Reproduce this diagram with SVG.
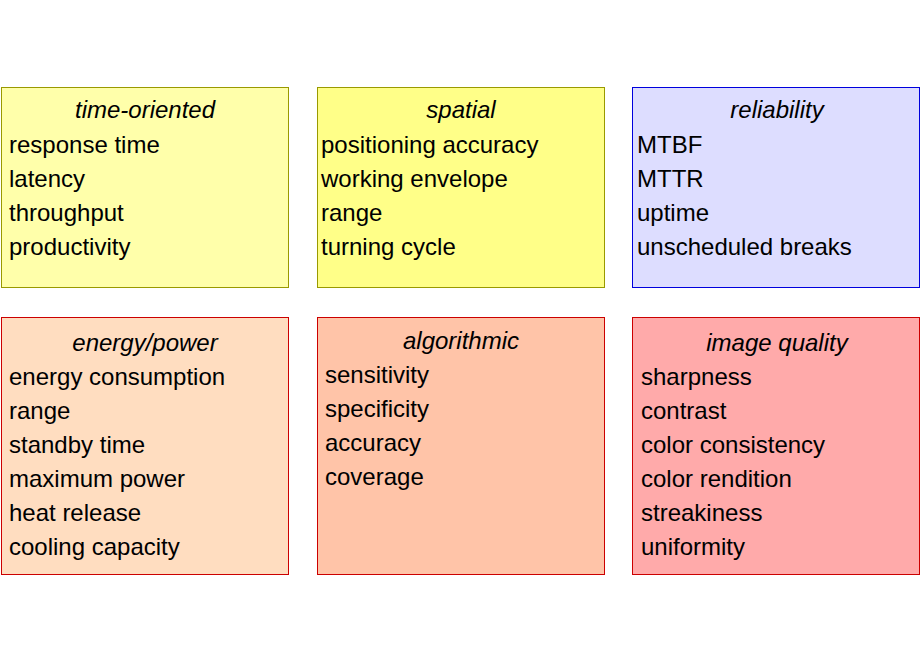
<svg xmlns="http://www.w3.org/2000/svg" width="920" height="660" viewBox="0 0 920 660">
<style>
rect{stroke-width:1}
text{font-family:"Liberation Sans",Arial,sans-serif;font-size:24px;fill:#000}
.t{font-style:italic;text-anchor:middle}
</style>
<rect width="920" height="660" fill="#fff"/>
<g id="time"><rect x="1.5" y="87.5" width="287" height="200" fill="#FFFFAA" stroke="#999900"/>
<text class="t" x="145" y="118">time-oriented</text>
<text x="9" y="153">response time</text><text x="9" y="187">latency</text><text x="9" y="221">throughput</text><text x="9" y="255">productivity</text></g>
<g id="spatial"><rect x="317.5" y="87.5" width="287" height="200" fill="#FFFF88" stroke="#999900"/>
<text class="t" x="461" y="118">spatial</text>
<text x="321" y="153">positioning accuracy</text><text x="321" y="187">working envelope</text><text x="321" y="221">range</text><text x="321" y="255">turning cycle</text></g>
<g id="reliability"><rect x="632.5" y="87.5" width="287" height="200" fill="#DDDDFF" stroke="#0000DD"/>
<text class="t" x="777" y="118">reliability</text>
<text x="637" y="153">MTBF</text><text x="637" y="187">MTTR</text><text x="637" y="221">uptime</text><text x="637" y="255">unscheduled breaks</text></g>
<g id="energy"><rect x="1.5" y="317.5" width="287" height="257" fill="#FFDDC0" stroke="#CC0000"/>
<text class="t" x="145" y="351">energy/power</text>
<text x="9" y="385">energy consumption</text><text x="9" y="419">range</text><text x="9" y="453">standby time</text><text x="9" y="487">maximum power</text><text x="9" y="521">heat release</text><text x="9" y="555">cooling capacity</text></g>
<g id="algorithmic"><rect x="317.5" y="317.5" width="287" height="257" fill="#FFC4A8" stroke="#CC0000"/>
<text class="t" x="461" y="349">algorithmic</text>
<text x="325" y="383">sensitivity</text><text x="325" y="417">specificity</text><text x="325" y="451">accuracy</text><text x="325" y="485">coverage</text></g>
<g id="image"><rect x="632.5" y="317.5" width="287" height="257" fill="#FFAAAA" stroke="#CC0000"/>
<text class="t" x="777" y="351">image quality</text>
<text x="641" y="385">sharpness</text><text x="641" y="419">contrast</text><text x="641" y="453">color consistency</text><text x="641" y="487">color rendition</text><text x="641" y="521">streakiness</text><text x="641" y="555">uniformity</text></g>
<g id="connectors"/>
</svg>
